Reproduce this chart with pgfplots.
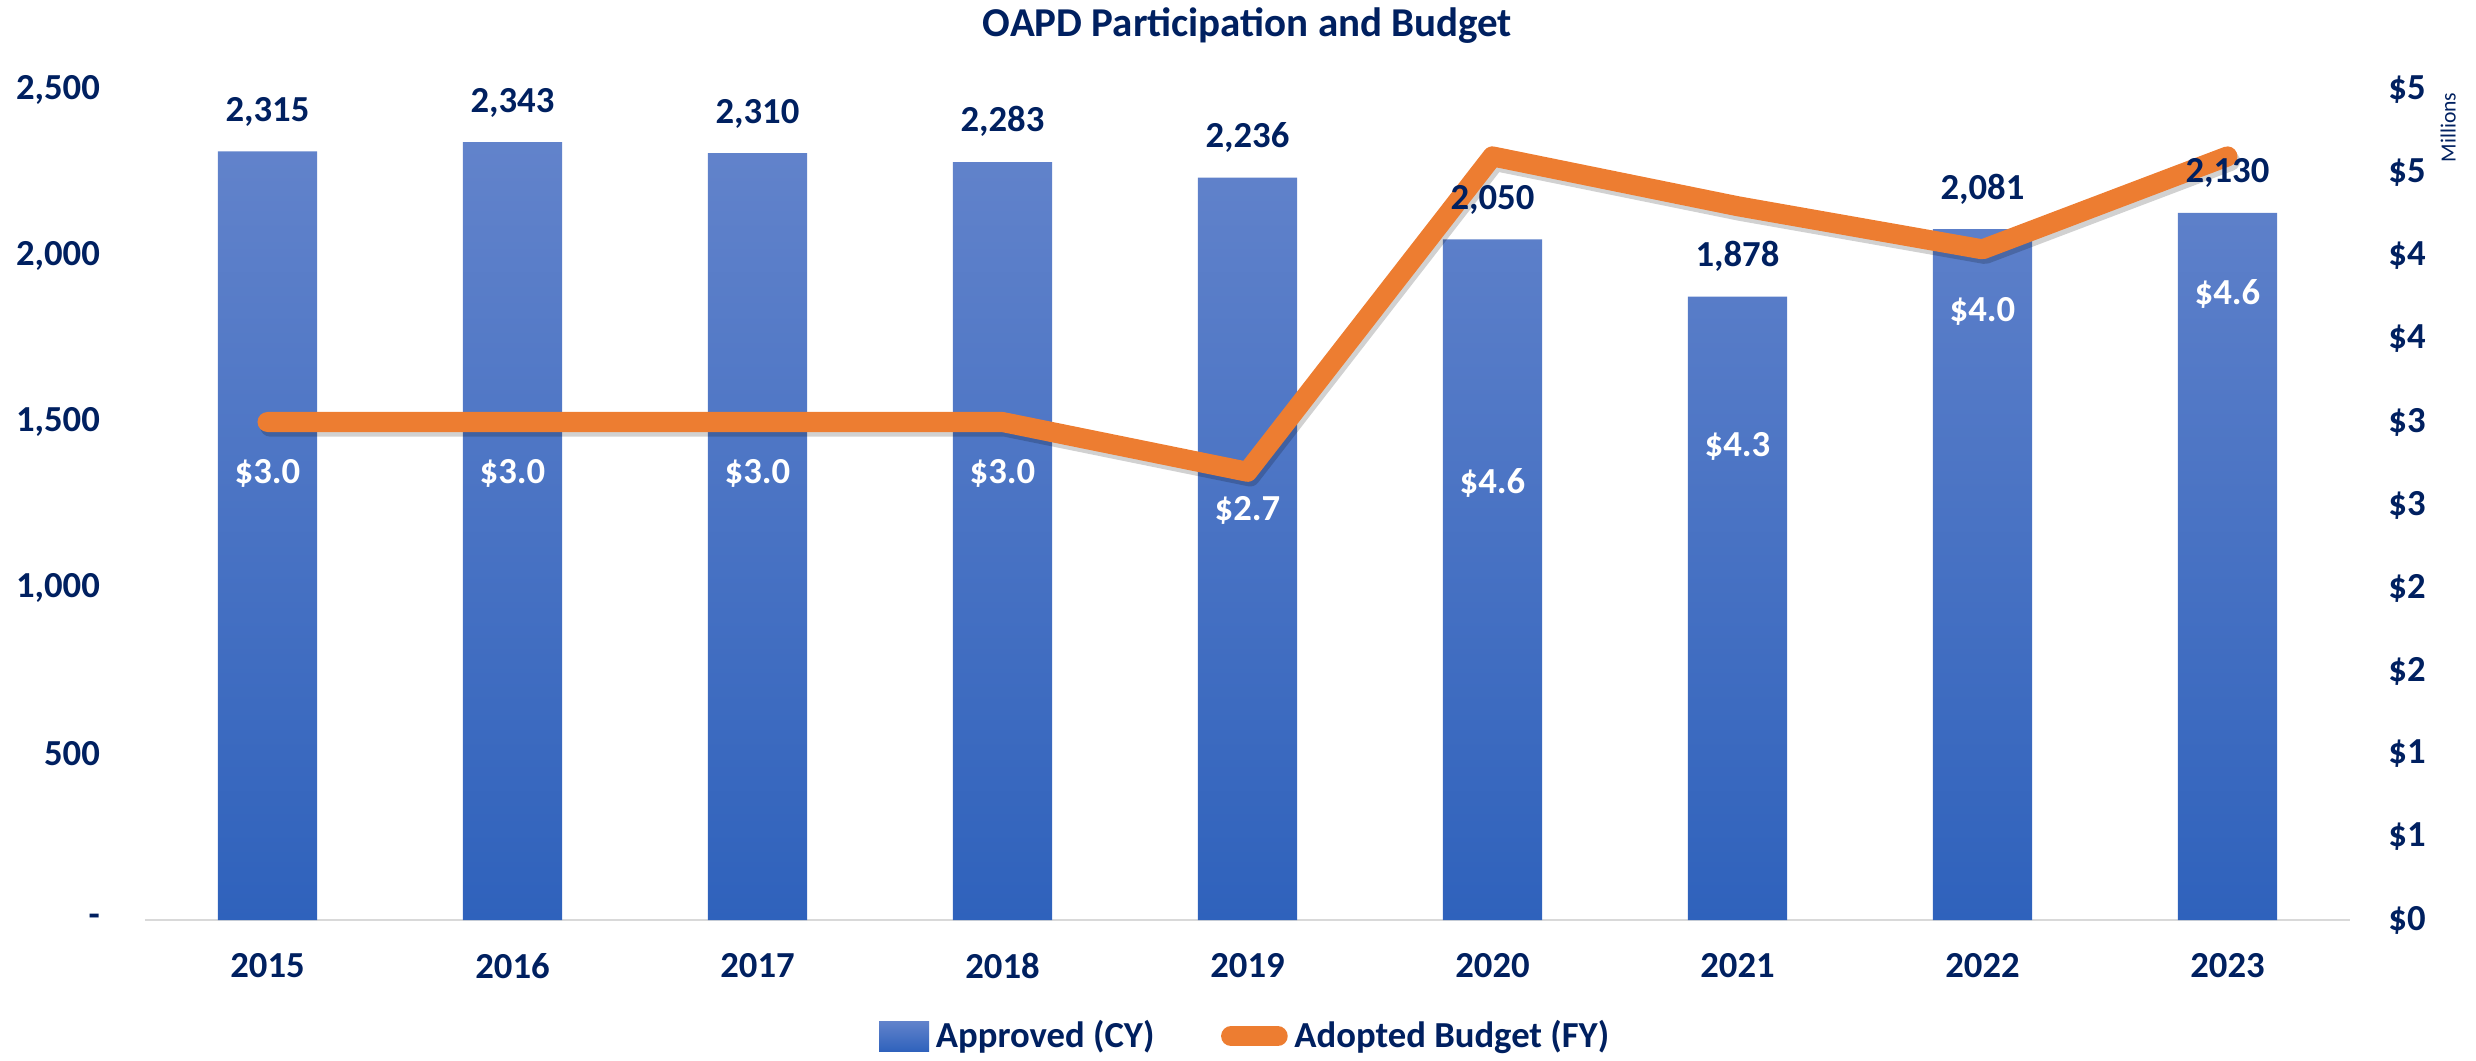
\documentclass[border=0pt]{standalone}
\usepackage{fontspec}
\setmainfont{Carlito}
\usepackage{pgfplots}
\usepackage{pgfplotstable}
\pgfplotsset{compat=1.18}
\definecolor{navy}{HTML}{002060}
\definecolor{barTop}{RGB}{98,131,203}
\definecolor{barBot}{RGB}{47,98,188}
\definecolor{orangeL}{HTML}{ED7D31}
\definecolor{axgray}{HTML}{D9D9D9}
\newcommand{\fs}{\fontsize{11}{13}\selectfont\bfseries}

\pgfplotstableread{
x approved budget
0 2315 3.0
1 2343 3.0
2 2310 3.0
3 2283 3.0
4 2236 2.7
5 2050 4.6
6 1878 4.3
7 2081 4.04
8 2130 4.6
}\data

\begin{document}
\begin{tikzpicture}
\begin{axis}[
  scale only axis, width=661.5pt, height=249pt,
  xmin=-0.5, xmax=8.5, ymin=0, ymax=2500,
  axis x line*=bottom, axis y line*=left,
  every outer x axis line/.append style={-},
  x axis line style={axgray, line width=0.75pt, -},
  y axis line style={draw=none},
  major tick length=0pt,
  xtick={0,...,8},
  xticklabels={2015,2016,2017,2018,2019,2020,2021,2022,2023},
  ytick={0,500,1000,1500,2000,2500},
  yticklabels={{-\hspace{3pt}},{500},{1,000},{1,500},{2,000},{2,500}},
  ticklabel style={font=\fs, text=navy},
  xticklabel style={yshift=-6.5pt},
  yticklabel style={xshift=-10pt},
  title={OAPD Participation and Budget},
  title style={font=\fontsize{12.3}{14}\selectfont\bfseries, text=navy, at={(0.5,1)}, anchor=center, yshift=13.3pt},
  legend columns=2,
  legend cell align=left,
  legend style={at={(0.5,-0.14)}, anchor=center, draw=none, font=\fs, text=navy,
    /tikz/every even column/.append style={column sep=18pt}},
]
\coordinate (SW) at (rel axis cs:0,0);
\addplot[ybar, bar width=29.8pt, draw=none, top color=barTop, bottom color=barBot,
  legend image code/.code={\fill[top color=barTop,bottom color=barBot] (0pt,-4.5pt) rectangle (15pt,4.5pt);}]
  table[x=x, y=approved] {\data};
\addlegendentry{Approved (CY)}
% soft shadow of the budget line
\addplot[sharp plot, black, opacity=0.18, line width=6pt, line cap=round, line join=round, mark=none,
  forget plot, transform canvas={xshift=0.8pt, yshift=-1.4pt}]
  table[x=x, y expr=\thisrow{budget}*500] {\data};
\addplot[sharp plot, orangeL, line width=6pt, line cap=round, line join=round, mark=none,
  legend image code/.code={\draw[orangeL, line width=6pt, line cap=round] (3pt,0pt) -- (17pt,0pt);}]
  table[x=x, y expr=\thisrow{budget}*500] {\data};
\addlegendentry{Adopted Budget (FY)}
% bar value labels (drawn above the line)
\addplot[draw=none, mark=none, forget plot, point meta=y,
  nodes near coords={\pgfmathprintnumber[fixed, 1000 sep={,}, assume math mode=true]{\pgfplotspointmeta}},
  nodes near coords style={font=\fs, text=navy, anchor=south, yshift=4pt}]
  table[x=x, y=approved] {\data};
% budget labels (white, inside bars)
\addplot[draw=none, mark=none, forget plot, point meta=explicit symbolic,
  nodes near coords, nodes near coords style={font=\fs, text=white, anchor=center}]
  coordinates {(0,1345) [\$3.0] (1,1345) [\$3.0] (2,1345) [\$3.0] (3,1345) [\$3.0]
   (4,1235) [\$2.7] (5,1315) [\$4.6] (6,1426) [\$4.3] (7,1832) [\$4.0] (8,1887) [\$4.6]};
\end{axis}
\begin{axis}[
  scale only axis, width=661.5pt, height=249pt,
  xmin=-0.5, xmax=8.5, ymin=0, ymax=5,
  hide x axis,
  axis y line*=right,
  y axis line style={draw=none},
  major tick length=0pt,
  ytick={0,0.5,1,1.5,2,2.5,3,3.5,4,4.5,5},
  yticklabels={\$0,\$1,\$1,\$2,\$2,\$3,\$3,\$4,\$4,\$5,\$5},
  yticklabel style={font=\fs, text=navy, xshift=8pt},
  ylabel={Millions},
  ylabel style={font=\fontsize{6.5}{8}\selectfont, text=navy, at={(rel axis cs:1.0445,0.955)}, anchor=center},
]
\end{axis}
\pgfresetboundingbox
\path (SW) ++(-43.5pt,-42pt) rectangle ++(742.8pt,318pt);
\end{tikzpicture}
\end{document}
